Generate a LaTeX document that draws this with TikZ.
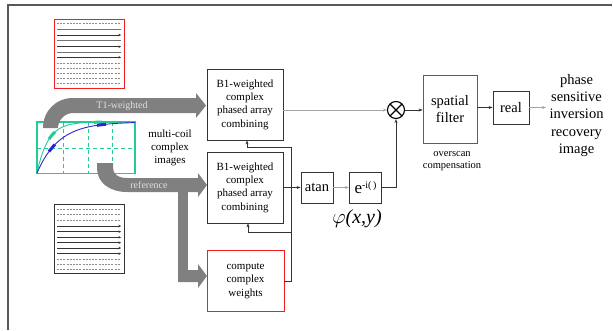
\documentclass[tikz,border=0pt]{standalone}
\usepackage{fontspec}
\setmainfont{Liberation Serif}
\usetikzlibrary{arrows.meta,calc}
\definecolor{fatgray}{RGB}{128,128,128}
\definecolor{mint}{RGB}{34,204,150}
\definecolor{curveblue}{RGB}{40,40,215}
\definecolor{boxred}{RGB}{240,30,30}
\definecolor{thinline}{RGB}{165,165,165}
\tikzset{
  blk/.style={draw=black!80, line width=0.8pt, fill=white, align=center, inner sep=0pt},
  redblk/.style={blk, draw=boxred},
  txt11/.style={font=\fontsize{11}{13.3}\selectfont},
  txt14/.style={font=\fontsize{14.5}{17.3}\selectfont},
  conn/.style={line width=0.6pt, black!80, -{Stealth[length=4pt,width=3pt]}},
  softconn/.style={conn, draw=thinline},
  fat/.style={fill=fatgray, draw=none},
  fatlabel/.style={text=white!88!black, font=\fontsize{10}{12}\selectfont},
  scanline/.style={line width=0.5pt, black!60},
  skipline/.style={line width=0.4pt, black!45, dash pattern=on 2pt off 1.2pt},
  scanarrow/.style={scanline, -{Stealth[length=2.5pt,width=2.5pt]}, black!80}
}
\begin{document}
\begin{tikzpicture}[x=1pt,y=-1pt]
\useasboundingbox (0,0) rectangle (613,330);

% page frame
\draw[line width=1.3pt, black!65] (8,330) -- (8,5) -- (612,5);

% k-space sampling pattern, first readout
\draw[line width=0.9pt, boxred] (54,19) rectangle (124,88);
\foreach \yy in {23.3,62.7,67.7,72.7,77.7,82.7}
  \draw[skipline] (57,\yy) -- (121,\yy);
\foreach \yy in {29.3,40.7,52.3}
  \draw[scanline, line width=0.9pt, black!55] (57,\yy) -- (121,\yy);
\foreach \yy in {35,46.7,57.3}
  \draw[scanarrow] (57,\yy) -- (121,\yy);

% k-space sampling pattern, reference readout
\draw[line width=0.9pt, black!80] (54,204) rectangle (124,273);
\foreach \yy in {208.7,214.3,220,259.3,264.3,269.3}
  \draw[skipline] (57,\yy) -- (121,\yy);
\foreach \yy in {226,231.7,237.3,242.7,248,253.7}
  \draw[scanarrow] (57,\yy) -- (121,\yy);

% inversion recovery curves
\draw[mint, line width=1.2pt] (37,122) rectangle (135,173.5);
\foreach \xx in {63,88,112}
  \draw[mint, line width=0.9pt, dash pattern=on 4pt off 3pt] (\xx,122) -- (\xx,173.5);
\draw[mint, line width=0.9pt, dash pattern=on 4pt off 3pt] (37,148) -- (135,148);
\draw[mint, line width=0.9pt] plot[domain=37:135, samples=70] (\x, {173-51*(1-exp(-(\x-37)/11))});
\draw[curveblue, line width=0.9pt] plot[domain=37:135, samples=70] (\x, {173-51*(1-exp(-(\x-37)/22))});
\draw[mint, line width=3pt] plot[domain=49:55, samples=8] (\x, {173-51*(1-exp(-(\x-37)/11))});
\draw[mint, line width=3pt] plot[domain=94:102, samples=8] (\x, {173-51*(1-exp(-(\x-37)/11))});
\draw[curveblue, line width=3pt] plot[domain=49:55, samples=8] (\x, {173-51*(1-exp(-(\x-37)/22))});
\draw[curveblue, line width=3pt] plot[domain=97:106, samples=8] (\x, {173-51*(1-exp(-(\x-37)/22))});

\node[txt11, align=center] (coils) at (170,148) {multi-coil\\complex\\images};

% processing blocks
\node[blk, txt11, minimum width=76pt, minimum height=71pt] (box1) at (245,104.5)
  {B1-weighted\\complex\\phased array\\combining};
\node[blk, txt11, minimum width=76pt, minimum height=71pt] (box2) at (245,187.5)
  {B1-weighted\\complex\\phased array\\combining};
\node[redblk, txt11, minimum width=77pt, minimum height=61pt] (comp) at (245.5,281)
  {compute\\complex\\weights};
\node[blk, txt14, minimum width=32pt, minimum height=31pt] (atan) at (317,187.5) {atan};
\node[blk, minimum width=32.5pt, minimum height=31pt] (expo) at (365.5,187.5)
  {{\fontsize{17}{17}\selectfont e}\raisebox{5pt}{\fontsize{10}{10}\selectfont -i(\,)}};
\node[circle, draw=black, line width=1.1pt, minimum size=17pt, inner sep=0pt] (ot) at (396,110) {};
\draw[line width=1.1pt] ($(ot.center)+(-6,-6)$) -- ($(ot.center)+(6,6)$)
                        ($(ot.center)+(-6,6)$) -- ($(ot.center)+(6,-6)$);
\node[redblk, txt14, minimum width=54pt, minimum height=68pt] (filt) at (450,109) {spatial\\filter};
\node[blk, txt14, minimum width=36pt, minimum height=33pt] (real) at (511,107.5) {real};
\node[txt14, align=center, anchor=west] (out) at (546,115.5)
  {phase\\sensitive\\inversion\\recovery\\image};
\node[font=\fontsize{10.5}{12.3}\selectfont, align=center] (osc) at (452,161)
  {overscan\\compensation};
\node[font=\fontsize{20}{20}\selectfont] (phi) at (357,219) {$\varphi$\textit{(x,y)}};

% fat data-flow arrows
\fill[fat] (43,128) .. controls (43,111) and (56,98) .. (73,98) -- (196,98) -- (196,93)
  -- (206,105.5) -- (196,118) -- (196,113) -- (73,113)
  .. controls (65,113) and (58,120) .. (58,128) -- cycle;
\node[fatlabel] (t1lab) at (122,106) {T1-weighted};
\fill[fat] (97,163) -- (97,168) .. controls (97,183) and (110,192) .. (127,192) -- (198,192) -- (198,197)
  -- (207,185) -- (198,173) -- (198,178) -- (127,178)
  .. controls (118,178) and (113,174) .. (113,168) -- (113,163) -- cycle;
\fill[fat] (178,190) rectangle (188,282);
\fill[fat] (178,270) -- (198,270) -- (198,264) -- (207,276) -- (198,288) -- (198,282) -- (178,282) -- cycle;
\node[fatlabel] (reflab) at (149,185) {reference};

% signal connectors
\coordinate (busTop) at (291,147);
\coordinate (busMid) at (291,232);
\draw[softconn] (box1.east |- ot.west) -- (ot.west);
\draw[conn] (ot.east) -- (filt.west |- ot.east);
\draw[conn] (filt.east |- real.west) -- (real.west);
\draw[softconn] (real.east) -- (out.west |- real.east);
\draw[conn] (box2.east) -- (atan.west);
\draw[softconn] (atan.east) -- (expo.west);
\draw[conn] (expo.east) -| (ot.south);
\draw[conn] (comp.east) -| (busTop) -| ([xshift=2pt]box1.south);
\draw[conn] (busMid) -| ([xshift=3pt]box2.south);
\end{tikzpicture}
\end{document}
